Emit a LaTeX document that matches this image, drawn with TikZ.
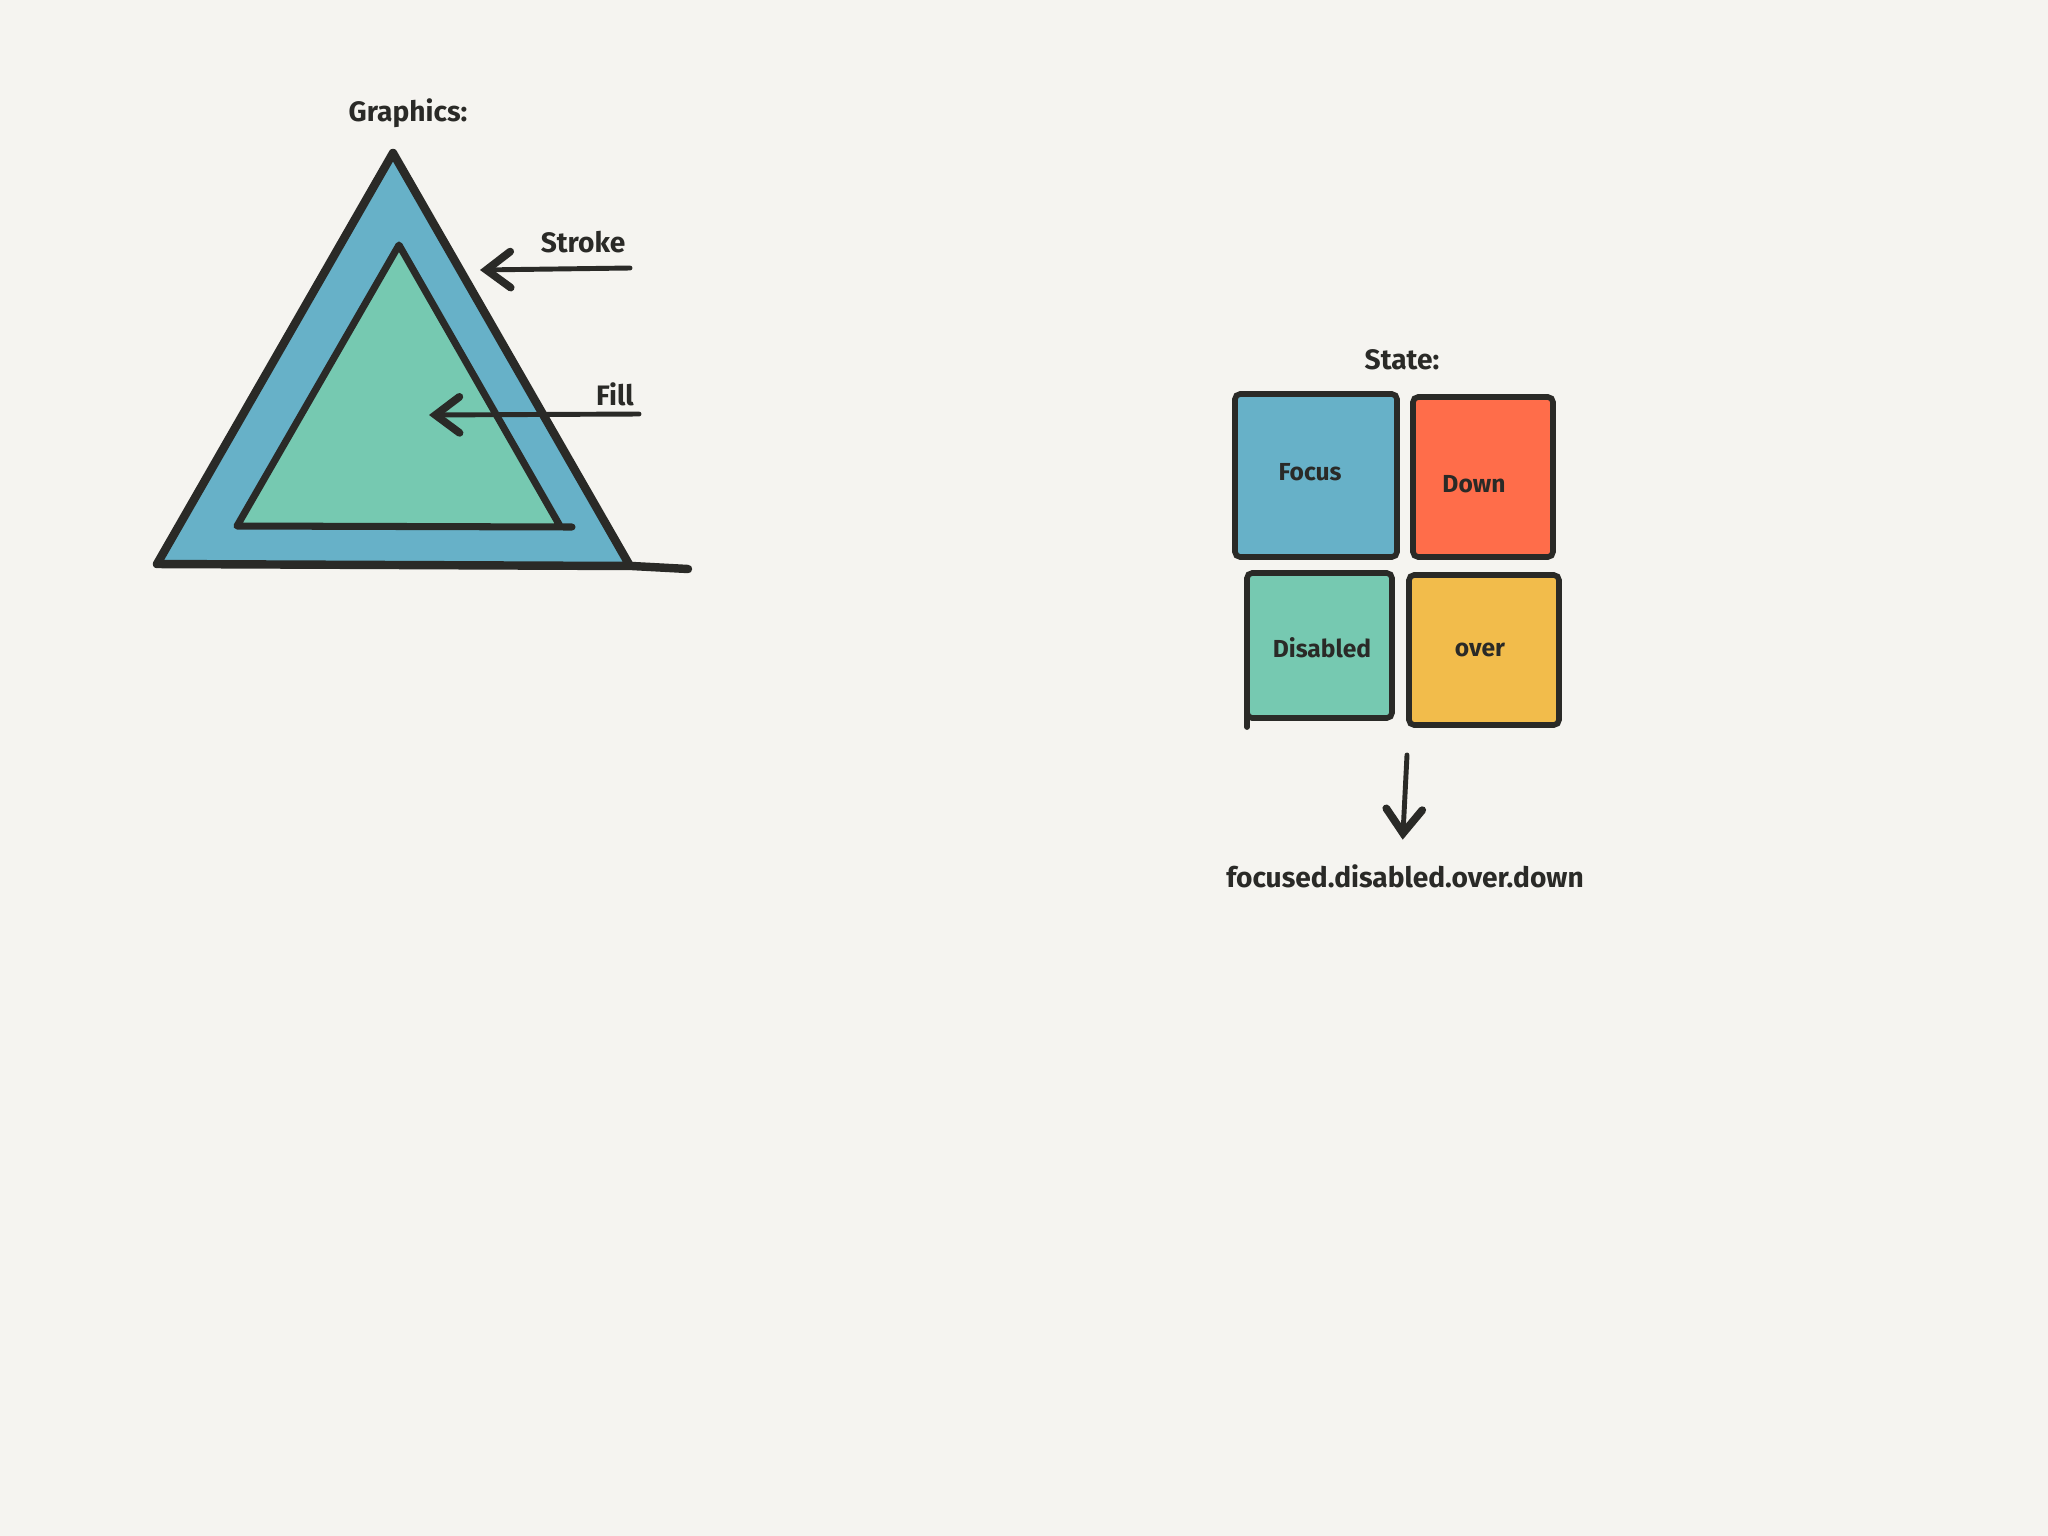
\documentclass[tikz,border=0pt]{standalone}
\usepackage{fontspec}
\setmainfont{Fira Sans}
\usetikzlibrary{arrows.meta}
\definecolor{bg}{HTML}{F5F4F0}
\definecolor{ink}{HTML}{2A2A27}
\definecolor{cblue}{HTML}{67B1C8}
\definecolor{cgreen}{HTML}{76C9B1}
\definecolor{corange}{HTML}{FF6D4A}
\definecolor{cyellow}{HTML}{F2BC4B}
\begin{document}
\begin{tikzpicture}[x=0.01cm,y=-0.01cm,
  hand/.style={font=\fontsize{8}{9}\selectfont\bfseries, text=ink, inner sep=0pt},
  boxlabel/.style={font=\fontsize{7}{8}\selectfont\bfseries, text=ink},
  statebox/.style={draw=ink, line width=1.6pt, rounded corners=1.5pt, inner sep=0pt, outer sep=0pt},
  outline/.style={draw=ink, line width=2.4pt, line join=round, line cap=round},
  pointer/.style={draw=ink, line width=1.4pt, line cap=round,
    -{Straight Barb[length=0.24cm, width=0.36cm, line width=2.2pt, line cap=round]}}
]
% canvas
\fill[bg] (0,0) rectangle (2048,1536);
\useasboundingbox (0,0) rectangle (2048,1536);

% ---------- Graphics ----------
\node[hand] (graphics) at (408,113) {Graphics:};

% outer triangle (stroke)
\fill[cblue] (157,564) -- (393,153) -- (630,566) -- cycle;
\draw[outline] (630,566) -- (393,153) -- (157,564) -- (632,566) -- (688,569);

% inner triangle (fill)
\fill[cgreen] (237,526) -- (399,245) -- (560,526) -- cycle;
\draw[outline, line width=2.0pt] (560,526) -- (399,245) -- (237,526) -- (572,527);

% labels and pointers
\node[hand] (stroke) at (583,242) {Stroke};
\node[hand] (fill) at (615,394) {Fill};
\coordinate (strokeTail) at (630,268);
\coordinate (strokeTip) at (480,270);
\coordinate (fillTail) at (639,414);
\coordinate (fillTip) at (429,415);
\draw[pointer] (strokeTail) -- (strokeTip);
\draw[pointer] (fillTail) -- (fillTip);

% ---------- State ----------
\node[hand] (state) at (1402,360) {State:};

\node[statebox, fill=cblue, minimum width=1.62cm, minimum height=1.63cm] (focus) at (1316,475.5) {};
\node[boxlabel] (focusLbl) at (1310,472) {Focus};

\node[statebox, fill=corange, minimum width=1.40cm, minimum height=1.60cm] (down) at (1483,477) {};
\node[boxlabel] (downLbl) at (1474,484) {Down};

\node[statebox, fill=cgreen, minimum width=1.45cm, minimum height=1.45cm] (disabled) at (1319.5,645.5) {};
\node[boxlabel] (disabledLbl) at (1322,648) {Disabled};
\draw[ink, line width=1.6pt, line cap=round] ([yshift=3pt]disabled.south west) -- ([yshift=-0.09cm]disabled.south west);

\node[statebox, fill=cyellow, minimum width=1.50cm, minimum height=1.50cm] (over) at (1484,650) {};
\node[boxlabel] (overLbl) at (1480,650) {over};

% result
\node[hand] (result) at (1405,876) {focused.disabled.over.down};
\coordinate (arrowTop) at (1407,755);
\draw[pointer, shorten >=0.24cm] (arrowTop) -- ([xshift=-1pt]result.north);
\end{tikzpicture}
\end{document}
